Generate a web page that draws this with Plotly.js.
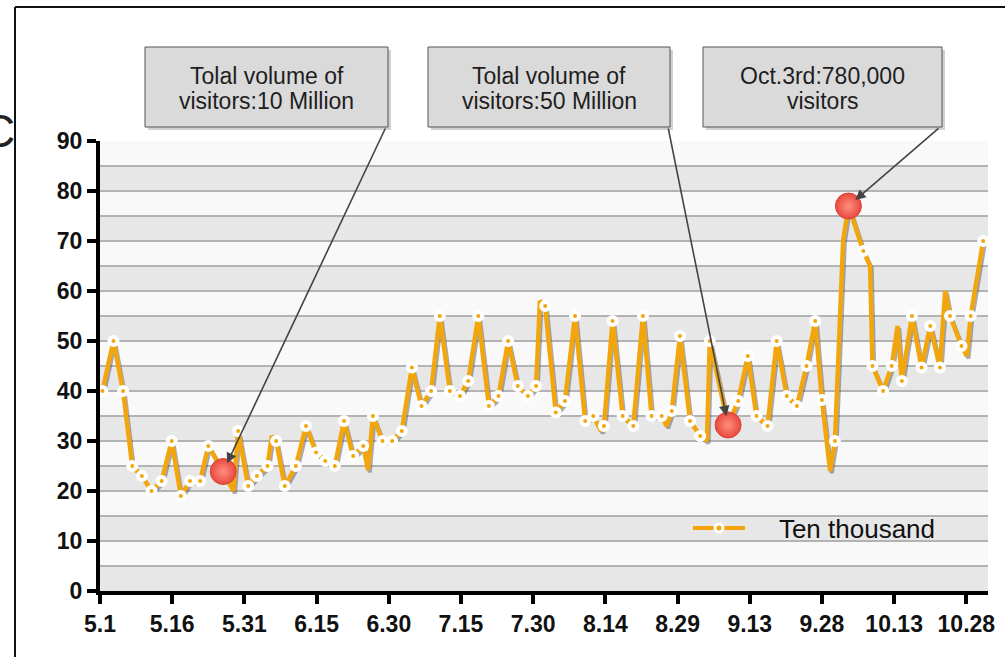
<!DOCTYPE html>
<html>
<head>
<meta charset="utf-8">
<script src="https://cdn.plot.ly/plotly-3.0.1.min.js"></script>
<style>
  html, body { margin: 0; padding: 0; background: #ffffff; }
  #chart { width: 1005px; height: 657px; }
</style>
</head>
<body>
<div id="chart"></div>
<script>
// ---- data ----
// day offset from May 1 for each vertex of the line
const dayOffset = [
  0.5, 2.8, 4.8, 6.7, 8.7, 10.7, 12.8, 14.9, 16.8, 18.7, 20.8, 22.5, 25.6, 27.7, 28.7,
  30.8, 32.6, 34.8, 35.7, 36.6, 38.4, 40.7, 42.8, 44.9, 46.8, 48.8, 50.7, 52.6, 54.7, 55.7,
  56.7, 58.7, 60.7, 62.7, 64.8, 66.8, 68.8, 70.6, 72.7, 74.8, 76.5, 78.6, 80.8, 82.8, 84.8,
  86.8, 88.9, 90.6, 91.4, 92.5, 94.7, 96.6, 98.7, 100.8, 102.5, 104.1, 104.7, 106.5, 108.6,
  110.8, 112.8, 114.6, 116.7, 117.7, 118.8, 120.5, 122.6, 124.7, 126.1, 126.7, 130.5, 132.6,
  134.6, 136.4, 138.7, 140.6, 142.7, 144.8, 146.8, 148.6, 150.0, 151.7, 152.7, 154.4, 155.5,
  158.6, 160.0, 160.5, 162.7, 164.5, 165.7, 166.6, 168.7, 170.7, 172.5, 174.5, 175.6, 176.6,
  179.0, 180.1, 180.9, 183.5
];
// visitors, in ten thousand
const visitors = [
  40, 50, 40, 25, 23, 20, 22, 30, 19, 22, 22, 29, 23.9, 20, 32,
  21, 23, 25, 31, 30, 21, 25, 33, 27.7, 26, 25, 34, 27, 29, 24.2,
  35, 30, 30, 32, 44.7, 37, 40, 55, 40, 39, 42, 55, 37, 39, 50,
  41, 39, 41, 58, 57, 35.7, 38, 55, 34, 35, 32, 33, 54, 35,
  33, 55, 35, 35, 33, 36, 51, 34, 31, 30, 50, 33.2, 38,
  47, 35, 33, 50, 39, 37, 45, 54, 38.2, 24, 30, 70, 77,
  68, 65, 45, 40, 45, 53, 42, 55, 44.7, 53, 44.7, 60, 55,
  49, 47, 55, 70
];
// 1 = a dot is drawn on this vertex, 0 = plain vertex, 2 = highlighted (red) vertex
const dotFlag = [
  1, 1, 1, 1, 1, 1, 1, 1, 1, 1, 1, 1, 2, 0, 1,
  1, 1, 1, 0, 1, 1, 1, 1, 1, 1, 1, 1, 1, 1, 0,
  1, 1, 1, 1, 1, 1, 1, 1, 1, 1, 1, 1, 1, 1, 1,
  1, 1, 1, 0, 1, 1, 1, 1, 1, 1, 0, 1, 1, 1,
  1, 1, 1, 1, 0, 1, 1, 1, 1, 0, 1, 2, 1,
  1, 1, 1, 1, 1, 1, 1, 1, 1, 0, 1, 0, 2,
  1, 0, 1, 1, 1, 0, 1, 1, 1, 1, 1, 0, 1,
  1, 0, 1, 1
];
const tickDays   = [0, 15, 30, 45, 60, 75, 90, 105, 120, 135, 150, 165, 180];
const tickLabels = ['5.1', '5.16', '5.31', '6.15', '6.30', '7.15', '7.30', '8.14', '8.29', '9.13', '9.28', '10.13', '10.28'];
const seriesName = 'Ten thousand';
const callouts = [
  ['Tolal volume of', 'visitors:10 Million'],
  ['Tolal volume of', 'visitors:50 Million'],
  ['Oct.3rd:780,000', 'visitors']
];

// ---- geometry (pixels) ----
const W = 1005, H = 657;
const M = {l: 100, r: 17, t: 141, b: 66};
const PW = W - M.l - M.r, PH = H - M.t - M.b;
const X_RANGE = [0, 184.5], Y_RANGE = [0, 90];
const px = x => (x - M.l) / PW;          // page x -> paper
const py = y => (H - M.b - y) / PH;      // page y -> paper
const dayToPx = d => M.l + (d - X_RANGE[0]) / (X_RANGE[1] - X_RANGE[0]) * PW;
const valToPx = v => H - M.b - (v - Y_RANGE[0]) / (Y_RANGE[1] - Y_RANGE[0]) * PH;

const ORANGE = '#f2a60c';
const FONT = 'Liberation Sans, Arial, sans-serif';

const dotX = [], dotY = [], redX = [], redY = [], redIdx = [];
dayOffset.forEach((d, i) => {
  if (dotFlag[i] === 1) { dotX.push(d); dotY.push(visitors[i]); }
  if (dotFlag[i] === 2) { redX.push(d); redY.push(visitors[i]); redIdx.push(i); }
});

const traces = [
  { // soft shadow under the line
    x: dayOffset.map(d => d + 0.35), y: visitors.map(v => v - 0.45),
    mode: 'lines', line: {color: 'rgba(60,72,105,0.45)', width: 4},
    hoverinfo: 'skip', showlegend: false
  },
  {
    x: dayOffset, y: visitors, name: seriesName,
    mode: 'lines', line: {color: ORANGE, width: 4.5},
    showlegend: false
  },
  {
    x: dotX, y: dotY, name: seriesName,
    mode: 'markers',
    marker: {size: 8, color: ORANGE, line: {color: '#ffffff', width: 4}},
    showlegend: false
  },
  { // legend entry
    x: [null], y: [null], name: '\u00a0\u00a0\u00a0\u00a0' + seriesName,
    mode: 'lines+markers', line: {color: ORANGE, width: 4},
    marker: {size: 8, color: ORANGE, line: {color: '#ffffff', width: 3}}
  },
  {
    x: redX, y: redY, mode: 'markers', showlegend: false,
    marker: {size: 26, color: '#e8493d',
             gradient: {type: 'radial', color: '#ff8f80'},
             line: {color: '#d9453a', width: 1}}
  }
];

// alternating bands and frame
const shapes = [];
for (let v = Y_RANGE[0]; v < Y_RANGE[1]; v += 10) {
  shapes.push({type: 'rect', xref: 'paper', yref: 'y', x0: 0, x1: 1, y0: v, y1: v + 5,
               fillcolor: '#e7e7e7', line: {width: 0}, layer: 'below'});
}
shapes.push({type: 'line', xref: 'paper', yref: 'paper', x0: px(15), x1: px(1005), y0: py(7), y1: py(7),
             line: {color: '#111', width: 2}});
shapes.push({type: 'line', xref: 'paper', yref: 'paper', x0: px(15), x1: px(15), y0: py(7), y1: py(657),
             line: {color: '#111', width: 2}});

// callout boxes: [left, right] in page pixels, top 47, bottom 127
const boxes = [[145, 388], [428, 670], [703, 942]];
const tails = [[386, 127], [668, 127], [940, 127]];
const annotations = [];
boxes.forEach((b, k) => {
  shapes.push({type: 'rect', xref: 'paper', yref: 'paper',
               x0: px(b[0] + 3), x1: px(b[1] + 3), y0: py(50), y1: py(130),
               fillcolor: 'rgba(0,0,0,0.18)', line: {width: 0}});
  shapes.push({type: 'rect', xref: 'paper', yref: 'paper',
               x0: px(b[0]), x1: px(b[1]), y0: py(47), y1: py(127),
               fillcolor: '#dadada', line: {color: '#555', width: 1}});
  callouts[k].forEach((line, j) => {
    annotations.push({
      text: line, xref: 'paper', yref: 'paper', x: px((b[0] + b[1]) / 2), y: py(76 + j * 25),
      xanchor: 'center', yanchor: 'middle', showarrow: false,
      font: {family: FONT, size: 23, color: '#1e1e1e'}
    });
  });
});
redIdx.forEach((i, k) => {
  annotations.push({
    text: '', xref: 'x', yref: 'y', x: dayOffset[i], y: visitors[i],
    ax: tails[k][0] - dayToPx(dayOffset[i]), ay: tails[k][1] - valToPx(visitors[i]),
    showarrow: true, arrowhead: 2, arrowsize: 1.3, arrowwidth: 1.6, arrowcolor: '#444',
    standoff: 9
  });
});
annotations.push({
  text: 'C', xref: 'paper', yref: 'paper', x: px(-2), y: py(131),
  xanchor: 'center', yanchor: 'middle', showarrow: false,
  font: {family: FONT, size: 46, color: '#222'}
});

const tickFont = {family: FONT, size: 23, color: '#111', weight: 'bold'};
const layout = {
  width: W, height: H,
  margin: M,
  paper_bgcolor: '#ffffff', plot_bgcolor: '#f9f9f9',
  font: {family: FONT, color: '#111'},
  xaxis: {
    range: X_RANGE, tickvals: tickDays, ticktext: tickLabels,
    showgrid: false, zeroline: false,
    showline: true, linecolor: '#000', linewidth: 4,
    ticks: 'outside', ticklen: 9, tickwidth: 4, tickcolor: '#000',
    tickfont: tickFont
  },
  yaxis: {
    range: Y_RANGE, tickvals: [0, 10, 20, 30, 40, 50, 60, 70, 80, 90],
    showgrid: true, gridcolor: '#b3b3b3', gridwidth: 1.5,
    minor: {dtick: 5, showgrid: true, gridcolor: '#b3b3b3', gridwidth: 1.5},
    zeroline: false,
    showline: true, linecolor: '#000', linewidth: 4,
    ticks: 'outside', ticklen: 9, tickwidth: 4, tickcolor: '#000',
    tickfont: tickFont
  },
  showlegend: true,
  legend: {
    x: px(688), y: py(528), xanchor: 'left', yanchor: 'middle',
    bgcolor: 'rgba(0,0,0,0)', font: {family: FONT, size: 26, color: '#111'},
    itemwidth: 52
  },
  shapes: shapes,
  annotations: annotations
};

Plotly.newPlot('chart', traces, layout, {staticPlot: true, displayModeBar: false});
</script>
</body>
</html>
